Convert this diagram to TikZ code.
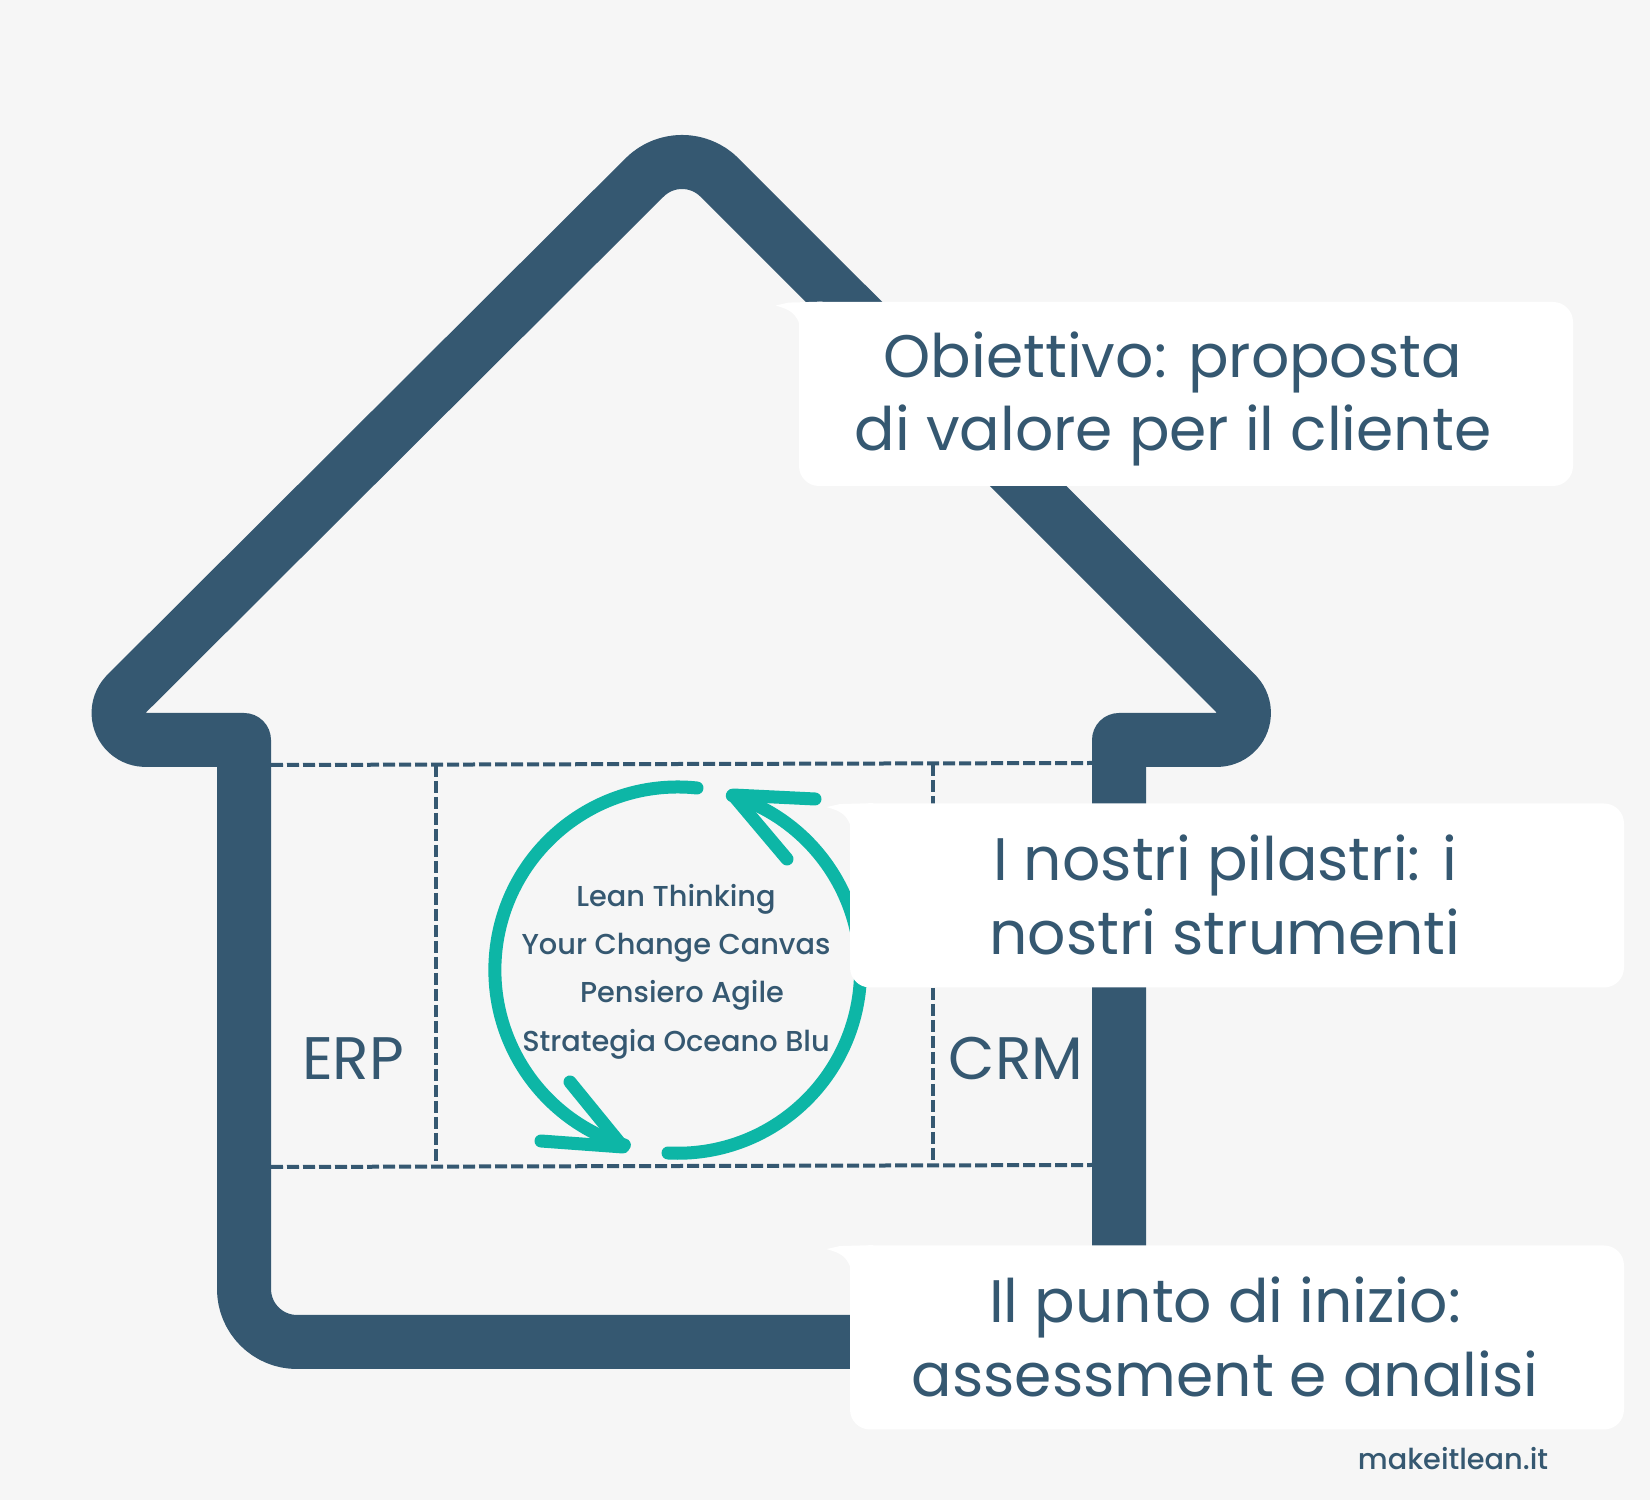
\documentclass[tikz,border=0pt]{standalone}
\usepackage{fontspec}
\setmainfont{Poppins}
\newfontfamily\mediumfont{Poppins Medium}
\usetikzlibrary{calc}
\definecolor{bgcol}{HTML}{F6F6F6}
\definecolor{housecol}{HTML}{355871}
\definecolor{tealcol}{HTML}{0DB6A6}
\tikzset{
  house/.style={draw=housecol,line width=27pt,line join=round},
  grid/.style={draw=housecol,line width=2pt,dash pattern=on 6pt off 2pt},
  cycle/.style={draw=tealcol,line width=6.5pt,line cap=round,line join=round},
  callout/.style={fill=white,rounded corners=10pt,minimum width=387pt,minimum height=92pt,inner sep=0pt},
  callouttext/.style={text=housecol,inner sep=0pt,align=center,font=\fontsize{30}{36.8}\selectfont},
  biglabel/.style={text=housecol,anchor=base,inner sep=0pt,font=\fontsize{30}{36.8}\selectfont},
  smalllabel/.style={text=housecol,anchor=base,inner sep=0pt,font=\mediumfont\fontsize{14.4}{17}\selectfont}
}
\begin{document}
\begin{tikzpicture}[x=0.5pt,y=0.5pt]
  \useasboundingbox[fill=bgcol] (0,0) rectangle (1650,1500);
  \draw[house] (145.5,760) -- (244,760) -- (244,211) arc[start angle=180,end angle=270,radius=53]
    -- (1119,158) -- (1119,760) -- (1217,760) arc[start angle=270,end angle=405,radius=27]
    -- (719.5,1322.5) arc[start angle=45,end angle=135,radius=53]
    -- (126.4,806.1) arc[start angle=135,end angle=270,radius=27] -- cycle;
  \coordinate (tl) at (271,735);
  \coordinate (tr) at (1092,737);
  \coordinate (bl) at (271,333);
  \coordinate (br) at (1092,335);
  \coordinate (t1) at (436,735);
  \coordinate (b1) at (436,333);
  \coordinate (t2) at (933,736);
  \coordinate (b2) at (933,334);
  \draw[grid] (tl) -- (tr);
  \draw[grid] (bl) -- (br);
  \draw[grid] (t1) -- (b1);
  \draw[grid] (t2) -- (b2);
  \coordinate (tipa) at (623,353);
  \coordinate (tipb) at (733,705);
  \draw[cycle] (697,712) arc[start angle=84,end angle=253,radius=183];
  \draw[cycle] (668,347) arc[start angle=267,end angle=432.6,radius=183];
  \draw[cycle] (541,359) -- (tipa) -- (570,418);
  \draw[cycle] (815,701) -- (tipb) -- (787,641);
  \node[smalllabel] (lean) at (676,593) {Lean Thinking};
  \node[smalllabel] (canvas) at (676,545) {Your Change Canvas};
  \node[smalllabel] (agile) at (682,497) {Pensiero Agile};
  \node[smalllabel] (oceano) at (676,448) {Strategia Oceano Blu};
  \node[biglabel] (erp) at (353,420) {ERP};
  \node[biglabel] (crm) at (1016,420) {CRM};
  \node[callout] (obiettivo) at (1186,1106) {};
  \node[callout] (pilastri) at (1237,604.5) {};
  \node[callout] (inizio) at (1237,162.5) {};
  \foreach \n in {obiettivo,pilastri,inizio}
    \fill[white] ($(\n.north west)+(-23,-4)$) .. controls ($(\n.north west)+(-8,-8)$) and ($(\n.north west)+(-2,-12)$) .. ($(\n.north west)+(2,-26)$)
      -- ($(\n.north west)+(24,0)$) -- ($(\n.north west)+(-10,-1)$) -- cycle;
  \node[callouttext] (obiettivolabel) at (1173,1101) {Obiettivo: proposta\\di valore per il cliente};
  \node[callouttext] (pilastrilabel) at (1225,605) {I nostri pilastri: i\\nostri strumenti};
  \node[callouttext] (iniziolabel) at (1225,163) {Il punto di inizio:\\assessment e analisi};
  \node[smalllabel] (site) at (1453,31) {makeitlean.it};
\end{tikzpicture}
\end{document}
